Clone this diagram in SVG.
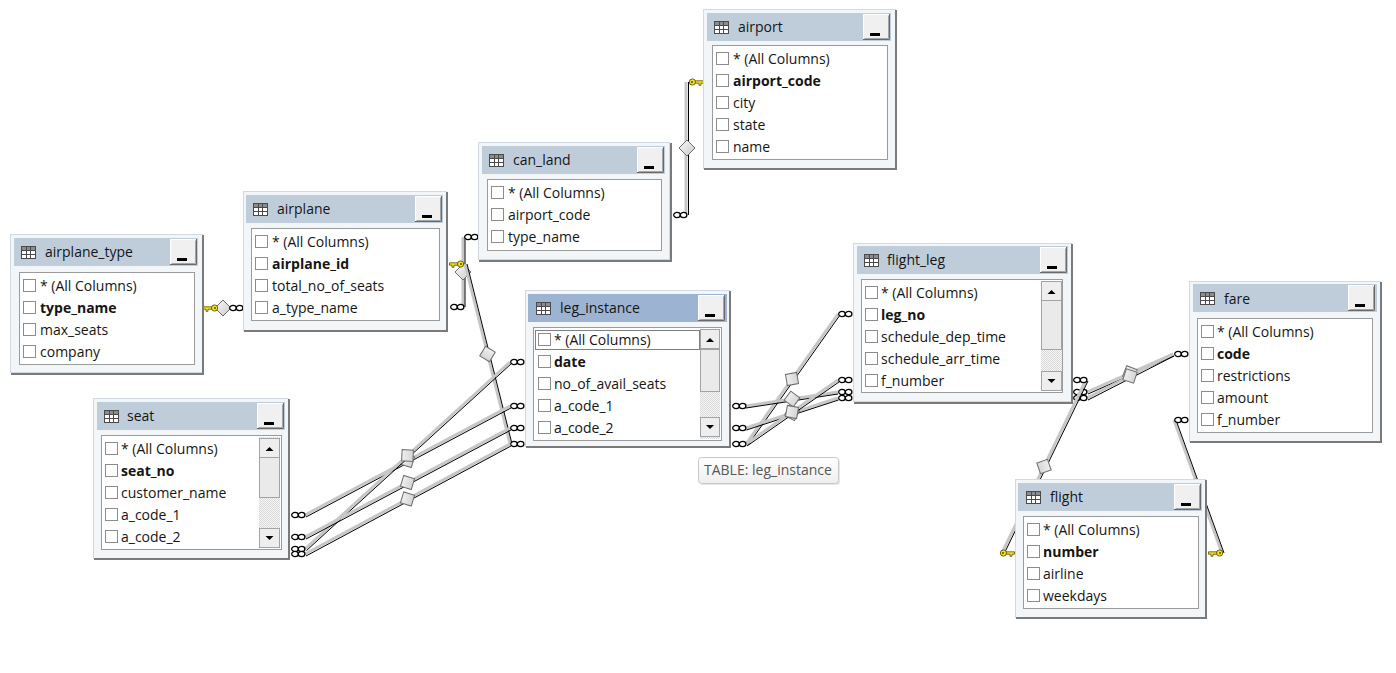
<svg xmlns="http://www.w3.org/2000/svg" width="1396" height="673" viewBox="0 0 1396 673">
<style>
text{font-family:"Open Sans","Noto Sans","Liberation Sans",sans-serif;font-size:14px;fill:#151515}
.b{font-weight:bold}
.frame{fill:#f3f6f9;stroke:#d3d9e0}
.shade{fill:none;stroke:#7a7a7a;stroke-width:2}
.title{fill:#bfcddb}
.sel{fill:#9cb4d2}
.list{fill:#fff;stroke:#9b9b9b}
.cb{fill:#fff;stroke:#8c8c8c}
.lg{fill:none;stroke:#c6c6c6;stroke-width:3}
.lb{fill:none;stroke:#000;stroke-width:1}
.sbtn{fill:#eeeeee;stroke:#a3a3a3}
.thumb{fill:#eaeaea;stroke:#a3a3a3}
.tri{fill:#000}
</style>
<defs>
  <linearGradient id="diaFill" x1="0" y1="0" x2="1" y2="1">
    <stop offset="0" stop-color="#fbfbfb"/>
    <stop offset="1" stop-color="#c9c9c9"/>
  </linearGradient>
  <linearGradient id="tipFill" x1="0" y1="0" x2="0" y2="1">
    <stop offset="0" stop-color="#ffffff"/>
    <stop offset="1" stop-color="#eeeeee"/>
  </linearGradient>
  <pattern id="dith" width="2" height="2" patternUnits="userSpaceOnUse">
    <rect width="2" height="2" fill="#f6f6f6"/>
    <rect width="1" height="1" fill="#d9d9d9"/>
    <rect x="1" y="1" width="1" height="1" fill="#d9d9d9"/>
  </pattern>
  <!-- table icon in title bars -->
  <symbol id="ico" width="15" height="13" viewBox="0 0 15 13">
    <rect x="0.5" y="0.5" width="14" height="12" fill="#fff" stroke="#4a4a4a"/>
    <rect x="1" y="1" width="13" height="3" fill="#8c8c8c"/>
    <path d="M0.5 4.5H14.5M0.5 8.5H14.5M5.5 0.5V12.5M9.5 0.5V12.5" stroke="#4a4a4a" fill="none"/>
  </symbol>
  <!-- minimize button -->
  <symbol id="minbtn" width="27" height="26" viewBox="0 0 27 26">
    <rect width="27" height="26" fill="#f0f0f0"/>
    <path d="M0.5 25V0.5H26" stroke="#fff" fill="none"/>
    <path d="M26.5 0V25.5H0" stroke="#6a6a6a" fill="none"/>
    <path d="M25.5 1.5V24.5H1.5" stroke="#a5a5a5" fill="none"/>
    <rect x="7" y="19" width="10" height="3" fill="#000"/>
  </symbol>
  <!-- many-end marker -->
  <symbol id="inf" width="15" height="7" viewBox="0 0 15 7" overflow="visible">
    <ellipse cx="4" cy="3.5" rx="3.3" ry="2.6" fill="#fff" stroke="#000" stroke-width="1.3"/>
    <ellipse cx="10.6" cy="3.5" rx="3.3" ry="2.6" fill="#fff" stroke="#000" stroke-width="1.3"/>
  </symbol>
  <!-- key-end marker, head on the right -->
  <symbol id="key" width="15" height="9" viewBox="0 0 15 9" overflow="visible">
    <path d="M0.5 3.3H9.5V5.7H5V7.8H3V5.7H0.5Z" fill="#f4e31a" stroke="#5a5200" stroke-width="0.8"/>
    <circle cx="11.6" cy="4.5" r="3.1" fill="#f4e31a" stroke="#5a5200" stroke-width="0.9"/>
    <circle cx="12" cy="4.5" r="0.9" fill="#3a3a00"/>
  </symbol>
  <polygon id="dia" points="-8,0 0,-8 8,0 0,8" fill="url(#diaFill)" stroke="#6e6e6e"/>
</defs>

<rect width="1396" height="673" fill="#fff"/>

<!-- relationship connectors -->
<g id="connectors">
  <g id="c1">
    <path class="lg" d="M216 308H230"/><path class="lb" d="M216 308H230" transform="translate(0,1.5)"/>
    <use href="#dia" transform="translate(223,308)"/>
    <use href="#key" x="203" y="303.5"/>
    <use href="#inf" x="229" y="304.5"/>
  </g>
  <g id="c2">
    <path class="lg" d="M686 82V215"/><path class="lb" d="M686 82V215" transform="translate(2.5,0)"/>
    <use href="#dia" transform="translate(687,148)"/>
    <use href="#key" transform="translate(704,77.5) scale(-1,1)"/>
    <use href="#inf" x="673" y="211.5"/>
  </g>
  <g id="c3">
    <path class="lg" d="M463 237V307"/><path class="lb" d="M463 237V307" transform="translate(2,0)"/>
    <use href="#dia" transform="translate(463,272)"/>
    <use href="#inf" x="464" y="233.5"/>
    <use href="#inf" x="450" y="303.5"/>
  </g>
  <g id="c4">
    <path class="lg" d="M465 264L510 444"/><path class="lb" d="M465 264L510 444" transform="translate(2,0)"/>
    <use href="#dia" transform="translate(487.5,354) rotate(76)"/>
    <use href="#inf" x="510" y="440.5"/>
  </g>
  <g id="c5">
    <path class="lg" d="M305 515L510 406"/><path class="lb" d="M305 515L510 406" transform="translate(1,2)"/>
    <use href="#dia" transform="translate(407.5,460.5) rotate(-28)"/>
    <use href="#inf" x="291" y="511.5"/>
    <use href="#inf" x="510" y="402.5"/>
  </g>
  <g id="c6">
    <path class="lg" d="M305 549L510 362"/><path class="lb" d="M305 549L510 362" transform="translate(1.5,1.5)"/>
    <use href="#dia" transform="translate(407.5,455.5) rotate(-42)"/>
    <use href="#inf" x="291" y="545.5"/>
    <use href="#inf" x="510" y="358.5"/>
  </g>
  <g id="c7">
    <path class="lg" d="M305 537L510 428"/><path class="lb" d="M305 537L510 428" transform="translate(1,2)"/>
    <use href="#dia" transform="translate(407.5,482.5) rotate(-28)"/>
    <use href="#inf" x="291" y="533.5"/>
    <use href="#inf" x="510" y="424.5"/>
  </g>
  <g id="c8">
    <path class="lg" d="M305 554L510 444"/><path class="lb" d="M305 554L510 444" transform="translate(1,2)"/>
    <use href="#dia" transform="translate(407.5,499) rotate(-28)"/>
    <use href="#inf" x="291" y="550.5"/>
  </g>
  <g id="c9">
    <path class="lg" d="M746 444L838 314"/><path class="lb" d="M746 444L838 314" transform="translate(2,1)"/>
    <use href="#dia" transform="translate(792,379) rotate(-55)"/>
    <use href="#inf" x="838" y="310.5"/>
  </g>
  <g id="c10">
    <path class="lg" d="M746 406L838 392"/><path class="lb" d="M746 406L838 392" transform="translate(0,2)"/>
    <use href="#dia" transform="translate(792,399) rotate(-9)"/>
    <use href="#inf" x="732" y="402.5"/>
    <use href="#inf" x="838" y="388.5"/>
  </g>
  <g id="c11">
    <path class="lg" d="M746 428L838 398"/><path class="lb" d="M746 428L838 398" transform="translate(0.5,2)"/>
    <use href="#dia" transform="translate(792,413) rotate(-18)"/>
    <use href="#inf" x="732" y="424.5"/>
    <use href="#inf" x="838" y="394.5"/>
  </g>
  <g id="c12">
    <path class="lg" d="M746 444L838 380"/><path class="lb" d="M746 444L838 380" transform="translate(1,2)"/>
    <use href="#dia" transform="translate(792,412) rotate(-35)"/>
    <use href="#inf" x="732" y="440.5"/>
    <use href="#inf" x="838" y="376.5"/>
  </g>
  <g id="c13">
    <path class="lg" d="M1087 392L1173 354"/><path class="lb" d="M1087 392L1173 354" transform="translate(1,2)"/>
    <use href="#dia" transform="translate(1130,373) rotate(-24)"/>
    <use href="#inf" x="1073" y="388.5"/>
  </g>
  <g id="c14">
    <path class="lg" d="M1087 398L1173 354"/><path class="lb" d="M1087 398L1173 354" transform="translate(1,2)"/>
    <use href="#dia" transform="translate(1130,376) rotate(-27)"/>
    <use href="#inf" x="1073" y="394.5"/>
    <use href="#inf" x="1174" y="350.5"/>
  </g>
  <g id="c15">
    <path class="lg" d="M1086 380L1002 553"/><path class="lb" d="M1086 380L1002 553" transform="translate(2,1)"/>
    <use href="#dia" transform="translate(1044,466.5) rotate(116)"/>
    <use href="#inf" x="1073" y="376.5"/>
    <use href="#key" transform="translate(1015,548.5) scale(-1,1)"/>
  </g>
  <g id="c16">
    <path class="lg" d="M1174 420L1222 553"/><path class="lb" d="M1174 420L1222 553" transform="translate(2,0)"/>
    <use href="#dia" transform="translate(1198,486.5) rotate(70)"/>
    <use href="#inf" x="1174" y="416.5"/>
    <use href="#key" x="1208" y="548.5"/>
  </g>
  <use href="#key" x="449" y="259.5"/>
</g>

<!-- airport -->
<g id="airport">
  <rect class="frame" x="703.5" y="9.5" width="192" height="159"/>
  <path class="shade" d="M896 10V169H704"/>
  <rect class="title" x="707" y="13" width="184" height="28"/>
  <use href="#ico" x="714" y="21"/>
  <text x="738" y="32">airport</text>
  <use href="#minbtn" x="863" y="14"/>
  <rect class="list" x="712.5" y="45.5" width="175" height="114"/>
  <rect class="cb" x="716.5" y="52.5" width="12" height="12"/><text x="733" y="64">* (All Columns)</text>
  <rect class="cb" x="716.5" y="74.5" width="12" height="12"/><text class="b" x="733" y="86">airport_code</text>
  <rect class="cb" x="716.5" y="96.5" width="12" height="12"/><text x="733" y="108">city</text>
  <rect class="cb" x="716.5" y="118.5" width="12" height="12"/><text x="733" y="130">state</text>
  <rect class="cb" x="716.5" y="140.5" width="12" height="12"/><text x="733" y="152">name</text>
</g>

<!-- can_land -->
<g id="can_land">
  <rect class="frame" x="478.5" y="142.5" width="191" height="117"/>
  <path class="shade" d="M671 143V261H479"/>
  <rect class="title" x="482" y="146" width="183" height="28"/>
  <use href="#ico" x="489" y="154"/>
  <text x="513" y="165">can_land</text>
  <use href="#minbtn" x="637" y="147"/>
  <rect class="list" x="487.5" y="179.5" width="174" height="71"/>
  <rect class="cb" x="491.5" y="186.5" width="12" height="12"/><text x="508" y="198">* (All Columns)</text>
  <rect class="cb" x="491.5" y="208.5" width="12" height="12"/><text x="508" y="220">airport_code</text>
  <rect class="cb" x="491.5" y="230.5" width="12" height="12"/><text x="508" y="242">type_name</text>
</g>

<!-- airplane_type -->
<g id="airplane_type">
  <rect class="frame" x="10.5" y="234.5" width="192" height="138"/>
  <path class="shade" d="M203 235V374H11"/>
  <rect class="title" x="14" y="238" width="184" height="28"/>
  <use href="#ico" x="21" y="246"/>
  <text x="45" y="257">airplane_type</text>
  <use href="#minbtn" x="170" y="239"/>
  <rect class="list" x="19.5" y="272.5" width="175" height="92"/>
  <rect class="cb" x="23.5" y="279.5" width="12" height="12"/><text x="40" y="291">* (All Columns)</text>
  <rect class="cb" x="23.5" y="301.5" width="12" height="12"/><text class="b" x="40" y="313">type_name</text>
  <rect class="cb" x="23.5" y="323.5" width="12" height="12"/><text x="40" y="335">max_seats</text>
  <rect class="cb" x="23.5" y="345.5" width="12" height="12"/><text x="40" y="357">company</text>
</g>

<!-- airplane -->
<g id="airplane">
  <rect class="frame" x="243.5" y="191.5" width="203" height="139"/>
  <path class="shade" d="M447 192V331H244"/>
  <rect class="title" x="246" y="195" width="197" height="28"/>
  <use href="#ico" x="253" y="203"/>
  <text x="277" y="214">airplane</text>
  <use href="#minbtn" x="415" y="196"/>
  <rect class="list" x="251.5" y="228.5" width="188" height="92"/>
  <rect class="cb" x="255.5" y="235.5" width="12" height="12"/><text x="272" y="247">* (All Columns)</text>
  <rect class="cb" x="255.5" y="257.5" width="12" height="12"/><text class="b" x="272" y="269">airplane_id</text>
  <rect class="cb" x="255.5" y="279.5" width="12" height="12"/><text x="272" y="291">total_no_of_seats</text>
  <rect class="cb" x="255.5" y="301.5" width="12" height="12"/><text x="272" y="313">a_type_name</text>
</g>

<!-- leg_instance (selected) -->
<g id="leg_instance">
  <rect class="frame" x="525.5" y="290.5" width="204" height="156"/>
  <path class="shade" d="M730 291V447H526"/>
  <rect class="sel" x="528" y="294" width="199" height="28"/>
  <use href="#ico" x="536" y="302"/>
  <text x="560" y="313">leg_instance</text>
  <use href="#minbtn" x="698" y="295"/>
  <rect class="list" x="533.5" y="327.5" width="188" height="113"/>
  <rect x="700" y="329" width="20" height="110" fill="url(#dith)"/>
  <rect class="sbtn" x="700.5" y="329.5" width="19" height="19"/><path class="tri" d="M706 342H714L710 338Z"/>
  <rect class="thumb" x="700.5" y="349.5" width="19" height="42"/>
  <rect class="sbtn" x="700.5" y="417.5" width="19" height="19"/><path class="tri" d="M706 425H714L710 429Z"/>
  <rect x="535.5" y="330.5" width="164" height="19" fill="none" stroke="#000" stroke-dasharray="1 1"/>
  <rect class="cb" x="538.5" y="333.5" width="12" height="12"/><text x="554" y="345">* (All Columns)</text>
  <rect class="cb" x="538.5" y="355.5" width="12" height="12"/><text class="b" x="554" y="367">date</text>
  <rect class="cb" x="538.5" y="377.5" width="12" height="12"/><text x="554" y="389">no_of_avail_seats</text>
  <rect class="cb" x="538.5" y="399.5" width="12" height="12"/><text x="554" y="411">a_code_1</text>
  <rect class="cb" x="538.5" y="421.5" width="12" height="12"/><text x="554" y="433">a_code_2</text>
</g>

<!-- seat -->
<g id="seat">
  <rect class="frame" x="93.5" y="398.5" width="195" height="160"/>
  <path class="shade" d="M289 399V559H94"/>
  <rect class="title" x="97" y="402" width="188" height="28"/>
  <use href="#ico" x="104" y="410"/>
  <text x="127" y="421">seat</text>
  <use href="#minbtn" x="257" y="403"/>
  <rect class="list" x="101.5" y="435.5" width="180" height="114"/>
  <rect x="259" y="437" width="21" height="111" fill="url(#dith)"/>
  <rect class="sbtn" x="259.5" y="438.5" width="20" height="19"/><path class="tri" d="M265.5 451H273.5L269.5 447Z"/>
  <rect class="thumb" x="259.5" y="457.5" width="20" height="40"/>
  <rect class="sbtn" x="259.5" y="528.5" width="20" height="19"/><path class="tri" d="M265.5 536H273.5L269.5 540Z"/>
  <rect class="cb" x="105.5" y="442.5" width="12" height="12"/><text x="121" y="454">* (All Columns)</text>
  <rect class="cb" x="105.5" y="464.5" width="12" height="12"/><text class="b" x="121" y="476">seat_no</text>
  <rect class="cb" x="105.5" y="486.5" width="12" height="12"/><text x="121" y="498">customer_name</text>
  <rect class="cb" x="105.5" y="508.5" width="12" height="12"/><text x="121" y="520">a_code_1</text>
  <rect class="cb" x="105.5" y="530.5" width="12" height="12"/><text x="121" y="542">a_code_2</text>
</g>

<!-- flight_leg -->
<g id="flight_leg">
  <rect class="frame" x="853.5" y="243.5" width="218" height="158"/>
  <path class="shade" d="M1072 244V403H854"/>
  <rect class="title" x="857" y="246" width="211" height="28"/>
  <use href="#ico" x="864" y="254"/>
  <text x="887" y="265">flight_leg</text>
  <use href="#minbtn" x="1040" y="247"/>
  <rect class="list" x="861.5" y="279.5" width="201" height="113"/>
  <rect x="1041" y="281" width="21" height="110" fill="url(#dith)"/>
  <rect class="sbtn" x="1041.5" y="281.5" width="20" height="19"/><path class="tri" d="M1047.5 294H1055.5L1051.5 290Z"/>
  <rect class="thumb" x="1041.5" y="300.5" width="20" height="49"/>
  <rect class="sbtn" x="1041.5" y="371.5" width="20" height="19"/><path class="tri" d="M1047.5 379H1055.5L1051.5 383Z"/>
  <rect class="cb" x="865.5" y="286.5" width="12" height="12"/><text x="881" y="298">* (All Columns)</text>
  <rect class="cb" x="865.5" y="308.5" width="12" height="12"/><text class="b" x="881" y="320">leg_no</text>
  <rect class="cb" x="865.5" y="330.5" width="12" height="12"/><text x="881" y="342">schedule_dep_time</text>
  <rect class="cb" x="865.5" y="352.5" width="12" height="12"/><text x="881" y="364">schedule_arr_time</text>
  <rect class="cb" x="865.5" y="374.5" width="12" height="12"/><text x="881" y="386">f_number</text>
</g>

<!-- fare -->
<g id="fare">
  <rect class="frame" x="1189.5" y="281.5" width="191" height="160"/>
  <path class="shade" d="M1381 282V442H1190"/>
  <rect class="title" x="1193" y="284" width="184" height="28"/>
  <use href="#ico" x="1200" y="292"/>
  <text x="1224" y="304">fare</text>
  <use href="#minbtn" x="1348" y="285"/>
  <rect class="list" x="1197.5" y="318.5" width="175" height="114"/>
  <rect class="cb" x="1201.5" y="325.5" width="12" height="12"/><text x="1217" y="337">* (All Columns)</text>
  <rect class="cb" x="1201.5" y="347.5" width="12" height="12"/><text class="b" x="1217" y="359">code</text>
  <rect class="cb" x="1201.5" y="369.5" width="12" height="12"/><text x="1217" y="381">restrictions</text>
  <rect class="cb" x="1201.5" y="391.5" width="12" height="12"/><text x="1217" y="403">amount</text>
  <rect class="cb" x="1201.5" y="413.5" width="12" height="12"/><text x="1217" y="425">f_number</text>
</g>

<!-- flight -->
<g id="flight">
  <rect class="frame" x="1015.5" y="479.5" width="190" height="138"/>
  <path class="shade" d="M1206 480V618H1016"/>
  <rect class="title" x="1018" y="483" width="184" height="28"/>
  <use href="#ico" x="1026" y="491"/>
  <text x="1050" y="502">flight</text>
  <use href="#minbtn" x="1174" y="484"/>
  <rect class="list" x="1023.5" y="516.5" width="175" height="92"/>
  <rect class="cb" x="1027.5" y="523.5" width="12" height="12"/><text x="1043" y="535">* (All Columns)</text>
  <rect class="cb" x="1027.5" y="545.5" width="12" height="12"/><text class="b" x="1043" y="557">number</text>
  <rect class="cb" x="1027.5" y="567.5" width="12" height="12"/><text x="1043" y="579">airline</text>
  <rect class="cb" x="1027.5" y="589.5" width="12" height="12"/><text x="1043" y="601">weekdays</text>
</g>

<!-- hover tooltip -->
<g id="tooltip">
  <rect x="700" y="459" width="140" height="26" rx="3" fill="#d8d8d8" opacity="0.6"/>
  <rect x="698.5" y="457.5" width="140" height="26" rx="3" fill="url(#tipFill)" stroke="#c8c8c8"/>
  <text x="704" y="475" style="fill:#575757">TABLE: leg_instance</text>
</g>
</svg>
